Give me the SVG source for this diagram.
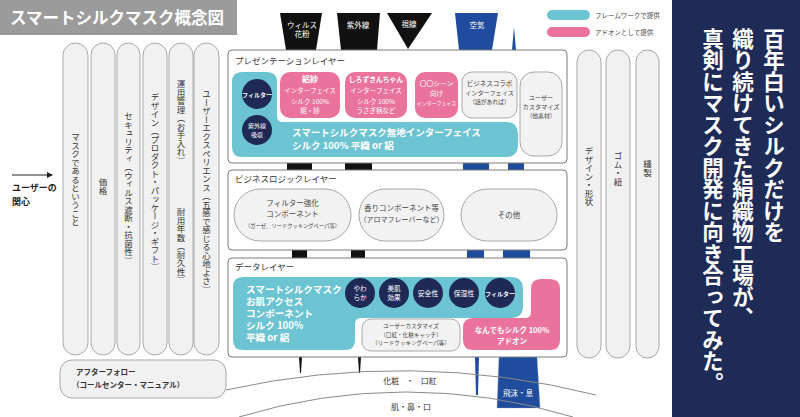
<svg xmlns="http://www.w3.org/2000/svg" width="800" height="417" viewBox="0 0 800 417">
<defs>
<style>
text{font-family:'Noto Sans CJK JP','Noto Sans',sans-serif;}
.pill{fill:#f1f1f1;stroke:#a8a8a8;stroke-width:1;}
.vt{writing-mode:vertical-rl;font-size:8.5px;fill:#333;}
.layer{fill:#fff;stroke:#7a7a7a;stroke-width:1;}
.lt{font-size:8.5px;fill:#333;}
.cy{fill:#6cc4d2;}
.pk{fill:#ea739e;}
.nv{fill:#1e2a55;}
.gb{fill:#f2f2f2;stroke:#a8a8a8;stroke-width:1;}
.w{fill:#fff;}
.wb{fill:#fff;font-weight:bold;}
.g{fill:#444;}
.bk{fill:#111;}
.bl{fill:#1f4c9c;}
.arc{fill:none;stroke:#8a8a8a;stroke-width:1;}
</style>
<marker id="ah" markerWidth="6" markerHeight="6" refX="5" refY="3" orient="auto" markerUnits="userSpaceOnUse">
<path d="M0,0 L6,3 L0,6 Z" fill="#222"/>
</marker>
</defs>

<rect width="800" height="417" fill="#fff"/>

<g id="title">
<rect x="0" y="0" width="237" height="35" fill="#9b9b9b"/>
<text x="10" y="24" font-size="16.5" class="wb">スマートシルクマスク概念図</text>
</g>

<g id="legend">
<rect x="547" y="10" width="43" height="10" rx="5" class="cy"/>
<text x="595" y="18" font-size="6.5" class="g">フレームワークで提供</text>
<rect x="547" y="27" width="43" height="10" rx="5" class="pk"/>
<text x="595" y="35" font-size="6.5" class="g">アドオンとして提供</text>
</g>

<g id="user-interest">
<line x1="12" y1="175" x2="52" y2="175" stroke="#222" stroke-width="1" marker-end="url(#ah)"/>
<text x="12" y="191" font-size="9" font-weight="bold" fill="#222">ユーザーの</text>
<text x="12" y="205" font-size="9" font-weight="bold" fill="#222">関心</text>
</g>

<g id="left-pills">
<g id="pill-mask"><rect x="63" y="43" width="25" height="312" rx="12.5" class="pill"/><text x="75.5" y="133" class="vt">マスクであるということ</text></g>
<g id="pill-price"><rect x="91" y="43" width="24" height="312" rx="12" class="pill"/><text x="103" y="178" class="vt">価格</text></g>
<g id="pill-security"><rect x="117" y="43" width="23" height="312" rx="11.5" class="pill"/><text x="128.5" y="112" class="vt">セキュリティ（ウィルス遮断・抗菌性）</text></g>
<g id="pill-design"><rect x="143" y="43" width="24" height="312" rx="12" class="pill"/><text x="155" y="93" class="vt">デザイン（プロダクト・パッケージ・ギフト）</text></g>
<g id="pill-ops"><rect x="169" y="43" width="24" height="312" rx="12" class="pill"/><text x="181" y="80" class="vt">運用管理（お手入れ）</text><text x="181" y="208" class="vt">耐用年数（耐久性）</text></g>
<g id="pill-ux"><rect x="194" y="43" width="25" height="312" rx="12.5" class="pill"/><text x="206.5" y="90" class="vt">ユーザーエクスペリエンス（五感で感じる心地よさ）</text></g>
</g>

<g id="right-pills">
<g id="pill-shape"><rect x="577" y="50" width="24" height="308" rx="12" class="pill"/><text x="589" y="147" class="vt">デザイン・形状</text></g>
<g id="pill-rubber"><rect x="606" y="50" width="24" height="308" rx="12" class="pill"/><text x="618" y="152" class="vt">ゴム・紐</text></g>
<g id="pill-sewing"><rect x="636" y="50" width="23" height="308" rx="11.5" class="pill"/><text x="647.5" y="160" class="vt">縫製</text></g>
</g>

<g id="after-follow">
<rect x="60" y="360" width="166" height="38" rx="12" class="pill"/>
<text x="76" y="375" font-size="7.5" font-weight="bold" fill="#333">アフターフォロー</text>
<text x="72" y="387.5" font-size="7.5" font-weight="bold" fill="#333">（コールセンター・マニュアル）</text>
</g>

<g id="connectors">
<path d="M280,13 H322 L316,50 H286 Z" class="bk"/>
<path d="M337,13 H380 L377,50 H341 Z" class="bk"/>
<path d="M387,13 H432 L408,49 Z" class="bk"/>
<path d="M455,13 H498 L492,50 H459 Z" class="bl"/>
<path d="M514,27 L516,50 H512 Z" class="bl"/>
<rect x="287" y="163" width="25" height="7" class="bk"/>
<rect x="345" y="163" width="27" height="7" class="bk"/>
<rect x="463" y="163" width="26" height="7" class="bl"/>
<rect x="508" y="163" width="16" height="7" class="bl"/>
<rect x="292" y="250" width="15" height="8" class="bk"/>
<rect x="351" y="250" width="14" height="8" class="bk"/>
<rect x="467" y="250" width="17" height="8" class="bl"/>
<rect x="503" y="250" width="27" height="8" class="bl"/>
<path d="M299,357 H302 L301,373 H300 Z" class="bk"/>
<path d="M358,357 H361 L360,373 H359 Z" class="bk"/>
<path d="M475,357 H479 L478,395 H476 Z" class="bl"/>
<path d="M499,357 H537 L540,408 H497 Z" class="bl" stroke="#7f9fd6" stroke-width="0.7" stroke-dasharray="1.5,1.5"/>
<text x="518" y="396" font-size="7.5" text-anchor="middle" class="w">飛沫・息</text>
<path d="M226,390 A800,800 0 0 1 596,395" class="arc"/>
<path d="M239,417 A570,570 0 0 1 573,417" class="arc"/>
</g>

<g id="input-labels">
<text x="302" y="28" font-size="7.5" text-anchor="middle" class="w">ウィルス</text>
<text x="302" y="37" font-size="7.5" text-anchor="middle" class="w">花粉</text>
<text x="358" y="28" font-size="7.5" text-anchor="middle" class="w">紫外線</text>
<text x="409" y="27" font-size="7.5" text-anchor="middle" class="w">視線</text>
<text x="477" y="28" font-size="7.5" text-anchor="middle" class="w">空気</text>
<text x="410" y="384" font-size="8" text-anchor="middle" fill="#333" word-spacing="5">化粧 ・ 口紅</text>
<text x="411" y="410" font-size="8" text-anchor="middle" fill="#333">肌・鼻・口</text>
</g>

<g id="presentation-layer">
<rect x="228" y="50" width="339" height="113" rx="4" class="layer"/>
<text x="235" y="64" class="lt">プレゼンテーションレイヤー</text>
<path d="M242,72 H267 Q277,72 277,82 V116 Q277,122 283,122 H506 Q518,122 518,134 V145 Q518,157 506,157 H242 Q232,157 232,147 V82 Q232,72 242,72 Z" class="cy"/>
<circle cx="257" cy="94" r="15" class="nv"/>
<text x="257" y="96.5" font-size="6" text-anchor="middle" class="wb">フィルター</text>
<circle cx="257" cy="130" r="15" class="nv"/>
<text x="257" y="127.5" font-size="6" text-anchor="middle" class="w">紫外線</text>
<text x="257" y="136.5" font-size="6" text-anchor="middle" class="w">吸収</text>
<text x="292" y="136" font-size="9.5" class="wb">スマートシルクマスク無地インターフェイス</text>
<text x="292" y="148.5" font-size="9.5" class="wb">シルク 100% 平織 or 絽</text>
<g id="if-ro">
<rect x="280" y="72" width="60" height="46" rx="10" class="pk"/>
<text x="310" y="82" font-size="8" text-anchor="middle" class="wb">絽紗</text>
<text x="310" y="93" font-size="6.5" text-anchor="middle" class="w">インターフェイス</text>
<text x="310" y="104" font-size="6.5" text-anchor="middle" class="w">シルク 100%</text>
<text x="310" y="113" font-size="6.5" text-anchor="middle" class="w">絽・紗</text>
</g>
<g id="if-shirozukin">
<rect x="345" y="72" width="62" height="46" rx="10" class="pk"/>
<text x="376" y="82" font-size="6.8" text-anchor="middle" class="wb">しろずきんちゃん</text>
<text x="376" y="93" font-size="6.5" text-anchor="middle" class="w">インターフェイス</text>
<text x="376" y="104" font-size="6.5" text-anchor="middle" class="w">シルク 100%</text>
<text x="376" y="113" font-size="6.5" text-anchor="middle" class="w">うさぎ柄など</text>
</g>
<g id="if-scene">
<rect x="415" y="72" width="43" height="46" rx="10" class="pk"/>
<text x="436.5" y="86" font-size="6.8" text-anchor="middle" class="w">〇〇シーン</text>
<text x="436.5" y="96" font-size="6.5" text-anchor="middle" class="w">向け</text>
<text x="436.5" y="104.5" font-size="5" text-anchor="middle" class="w">インターフェイス</text>
</g>
<g id="if-collab">
<rect x="462" y="72" width="55" height="46" rx="10" class="gb"/>
<text x="489.5" y="86" font-size="6.5" text-anchor="middle" class="g">ビジネスコラボ</text>
<text x="489.5" y="95" font-size="6.2" text-anchor="middle" class="g">インターフェイス</text>
<text x="489.5" y="104" font-size="5.8" text-anchor="middle" class="g">（話があれば）</text>
</g>
<g id="user-custom-p">
<rect x="520" y="72" width="42" height="84" rx="14" class="gb"/>
<text x="541" y="100" font-size="6.2" text-anchor="middle" class="g">ユーザー</text>
<text x="541" y="109" font-size="6.2" text-anchor="middle" class="g">カスタマイズ</text>
<text x="541" y="117.5" font-size="5.8" text-anchor="middle" class="g">（他素材）</text>
</g>
</g>

<g id="business-layer">
<rect x="228" y="170" width="339" height="80" rx="4" class="layer"/>
<text x="235" y="182" class="lt">ビジネスロジックレイヤー</text>
<g id="filter-comp">
<rect x="234" y="189" width="117" height="52" rx="26" class="gb"/>
<text x="292.5" y="206" font-size="7.5" text-anchor="middle" class="g">フィルター強化</text>
<text x="292.5" y="217" font-size="7.5" text-anchor="middle" class="g">コンポーネント</text>
<text x="292.5" y="227.5" font-size="5.3" text-anchor="middle" class="g">（ガーゼ、リードクッキングペーパ等）</text>
</g>
<g id="aroma-comp">
<rect x="359" y="189" width="85" height="52" rx="26" class="gb"/>
<text x="401.5" y="211" font-size="7.5" text-anchor="middle" class="g">香りコンポーネント等</text>
<text x="401.5" y="222" font-size="7" text-anchor="middle" class="g">（アロマフレーバーなど）</text>
</g>
<g id="other-comp">
<rect x="461" y="189" width="96" height="52" rx="26" class="gb"/>
<text x="509" y="218" font-size="7.5" text-anchor="middle" class="g">その他</text>
</g>
</g>

<g id="data-layer">
<rect x="228" y="258" width="339" height="99" rx="4" class="layer"/>
<text x="235" y="270" class="lt">データレイヤー</text>
<path d="M243,277 H511 Q523,277 523,289 V306 Q523,318 511,318 H361 Q355,318 355,324 V340 Q355,350 345,350 H243 Q233,350 233,340 V287 Q233,277 243,277 Z" class="cy"/>
<text x="246" y="293" font-size="9.6" class="wb">スマートシルクマスク</text>
<text x="246" y="305" font-size="9.6" class="wb">お肌アクセス</text>
<text x="246" y="317" font-size="9.6" class="wb">コンポーネント</text>
<text x="246" y="329" font-size="9.6" class="wb">シルク 100%</text>
<text x="246" y="341" font-size="9.6" class="wb">平織 or 絽</text>
<circle cx="360" cy="293" r="15" class="nv"/>
<text x="360" y="290.5" font-size="6.6" text-anchor="middle" class="w">やわ</text>
<text x="360" y="299.5" font-size="6.6" text-anchor="middle" class="w">らか</text>
<circle cx="394" cy="293" r="15" class="nv"/>
<text x="394" y="290.5" font-size="6.6" text-anchor="middle" class="w">美肌</text>
<text x="394" y="299.5" font-size="6.6" text-anchor="middle" class="w">効果</text>
<circle cx="428" cy="293" r="15" class="nv"/>
<text x="428" y="295.5" font-size="6.8" text-anchor="middle" class="w">安全性</text>
<circle cx="464" cy="293" r="15" class="nv"/>
<text x="464" y="295.5" font-size="6.8" text-anchor="middle" class="w">保湿性</text>
<circle cx="500" cy="293" r="15" class="nv"/>
<text x="500" y="295.5" font-size="6" text-anchor="middle" class="wb">フィルター</text>
<g id="user-custom-d">
<rect x="362" y="319" width="98" height="32" rx="9" class="gb"/>
<text x="411" y="328" font-size="5.6" text-anchor="middle" class="g">ユーザーカスタマイズ</text>
<text x="411" y="336.5" font-size="5.6" text-anchor="middle" class="g">（口紅・化粧キャッチ）</text>
<text x="411" y="345" font-size="5.6" text-anchor="middle" class="g">（リードクッキングペーパ等）</text>
</g>
<path d="M541,279 H550 Q560,279 560,289 V340 Q560,350 550,350 H473 Q463,350 463,340 V328 Q463,318 473,318 H525 Q531,318 531,312 V289 Q531,279 541,279 Z" class="pk"/>
<text x="512" y="333" font-size="7.5" text-anchor="middle" class="wb">なんでもシルク 100%</text>
<text x="512" y="344" font-size="7.5" text-anchor="middle" class="wb">アドオン</text>
</g>

<g id="message-panel">
<rect x="672" y="0" width="128" height="417" fill="#1f2b57"/>
<text x="774" y="28" font-size="21.5" font-weight="bold" class="w" style="writing-mode:vertical-rl">百年白いシルクだけを</text>
<text x="743" y="28" font-size="21.5" font-weight="bold" class="w" style="writing-mode:vertical-rl">織り続けてきた絹織物工場が、</text>
<text x="713" y="28" font-size="21.5" font-weight="bold" class="w" style="writing-mode:vertical-rl">真剣にマスク開発に向き合ってみた。</text>
</g>
</svg>
